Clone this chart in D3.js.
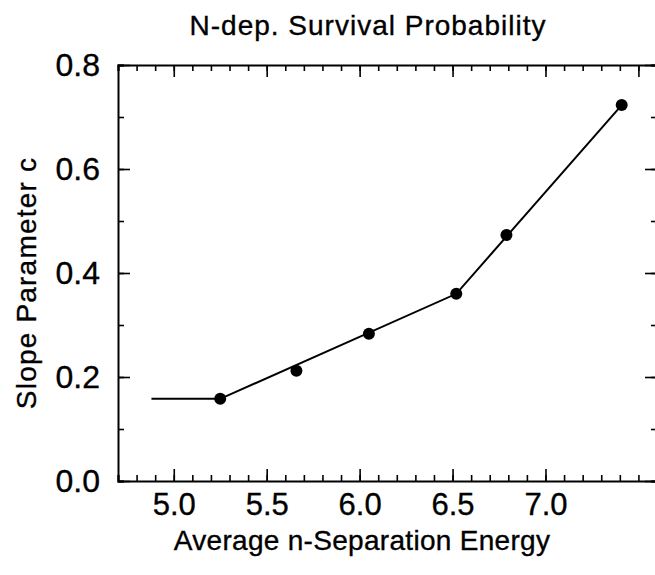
<!DOCTYPE html>
<html>
<head>
<meta charset="utf-8">
<script src="https://cdn.jsdelivr.net/npm/d3@7"></script>
<style>
  html, body { margin: 0; padding: 0; background: #fff; }
  svg { display: block; font-family: "Liberation Sans", Arial, Helvetica, sans-serif; }
  .lbl { fill: #000; stroke: #000; stroke-width: 0.35px; }
</style>
</head>
<body>
<svg id="chart" width="655" height="575"></svg>
<script>
// Measured slope parameters
const energy = [5.25, 5.66, 6.05, 6.52, 6.79, 7.41];
const slope = [0.158, 0.212, 0.283, 0.360, 0.473, 0.723];

// Piecewise trend line drawn through the measurements
const trendEnergy = [4.88, 5.25, 6.52, 7.41];
const trendSlope = [0.158, 0.158, 0.360, 0.723];

// Axis ticks
const xMajorTicks = [5.0, 5.5, 6.0, 6.5, 7.0, 7.5];
const xMinorTicks = d3.range(47, 77).map(d => d / 10);
const yMajorTicks = [0.0, 0.2, 0.4, 0.6, 0.8];
const yMinorTicks = d3.range(0, 9).map(d => d / 10);

const title = "N-dep. Survival Probability";
const xTitle = "Average n-Separation Energy";
const yTitle = "Slope Parameter c";

const svg = d3.select("#chart");
const box = { left: 118, right: 657, top: 65, bottom: 481 };

const x = d3.scaleLinear().domain([4.7, 7.6]).range([box.left, box.right]);
const y = d3.scaleLinear().domain([0, 0.8]).range([box.bottom, box.top]);

const majorLen = 12, minorLen = 6;
const fmt = d3.format(".1f");

function styleAxis(g) {
  g.select(".domain").attr("stroke", "#000").attr("stroke-width", 2);
  g.selectAll(".tick line").attr("stroke", "#000").attr("stroke-width", 1.6);
}

// Bottom axis: labelled majors, inward ticks
svg.append("g").attr("transform", `translate(0,${box.bottom})`)
  .call(d3.axisBottom(x).tickValues(xMinorTicks).tickSize(-minorLen).tickFormat(""))
  .call(styleAxis);
const xb = svg.append("g").attr("transform", `translate(0,${box.bottom})`)
  .call(d3.axisBottom(x).tickValues(xMajorTicks.filter(v => v <= 7.0)).tickSize(-majorLen).tickPadding(25).tickFormat(fmt))
  .call(styleAxis);
xb.select(".domain").remove();
xb.selectAll(".tick text").attr("class", "lbl").attr("font-size", 31).attr("dy", "0.3em");

// Top axis: inward ticks
svg.append("g").attr("transform", `translate(0,${box.top})`)
  .call(d3.axisTop(x).tickValues(xMinorTicks).tickSize(-minorLen).tickFormat(""))
  .call(styleAxis);
const xt = svg.append("g").attr("transform", `translate(0,${box.top})`)
  .call(d3.axisTop(x).tickValues(xMajorTicks).tickSize(-majorLen).tickFormat(""))
  .call(styleAxis);
xt.select(".domain").remove();

// Left axis: labelled majors
svg.append("g").attr("transform", `translate(${box.left},0)`)
  .call(d3.axisLeft(y).tickValues(yMinorTicks).tickSize(-minorLen).tickFormat(""))
  .call(styleAxis);
const yl = svg.append("g").attr("transform", `translate(${box.left},0)`)
  .call(d3.axisLeft(y).tickValues(yMajorTicks).tickSize(-majorLen).tickPadding(18).tickFormat(fmt))
  .call(styleAxis);
yl.select(".domain").remove();
yl.selectAll(".tick text").attr("class", "lbl").attr("font-size", 32);

// Right axis: inward ticks
svg.append("g").attr("transform", `translate(${box.right},0)`)
  .call(d3.axisRight(y).tickValues(yMinorTicks).tickSize(-minorLen).tickFormat(""))
  .call(styleAxis);
const yr = svg.append("g").attr("transform", `translate(${box.right},0)`)
  .call(d3.axisRight(y).tickValues(yMajorTicks).tickSize(-majorLen).tickFormat(""))
  .call(styleAxis);
yr.select(".domain").remove();

// Trend line
const line = d3.line().x(d => x(d[0])).y(d => y(d[1]));
svg.append("path")
  .datum(d3.zip(trendEnergy, trendSlope))
  .attr("d", line)
  .attr("fill", "none")
  .attr("stroke", "#000")
  .attr("stroke-width", 2);

// Measurement points
svg.append("g").selectAll("circle")
  .data(d3.zip(energy, slope))
  .join("circle")
  .attr("cx", d => x(d[0]))
  .attr("cy", d => y(d[1]))
  .attr("r", 6)
  .attr("fill", "#000");

// Titles
svg.append("text")
  .attr("class", "lbl")
  .attr("x", 368).attr("y", 35)
  .attr("text-anchor", "middle")
  .attr("font-size", 28)
  .attr("letter-spacing", 1)
  .text(title);

svg.append("text")
  .attr("class", "lbl")
  .attr("x", 362).attr("y", 550)
  .attr("text-anchor", "middle")
  .attr("font-size", 28)
  .attr("letter-spacing", 0.3)
  .text(xTitle);

svg.append("text")
  .attr("class", "lbl")
  .attr("transform", `translate(36,${(box.top + box.bottom) / 2 + 10}) rotate(-90)`)
  .attr("text-anchor", "middle")
  .attr("font-size", 28)
  .attr("letter-spacing", 1.2)
  .text(yTitle);
</script>
</body>
</html>
